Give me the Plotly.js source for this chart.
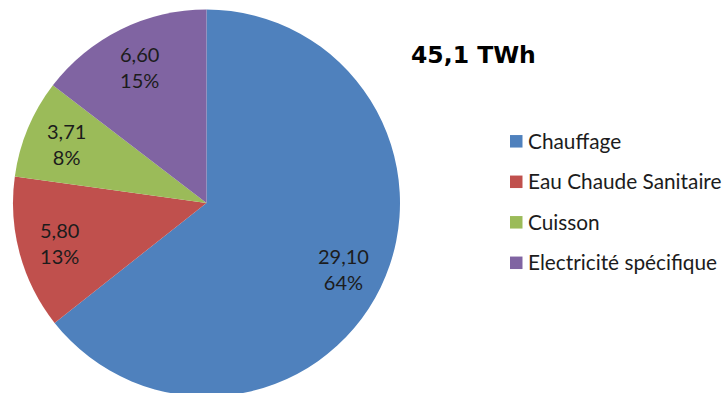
<!DOCTYPE html>
<html>
<head>
<meta charset="utf-8">
<script src="https://cdn.plot.ly/plotly-3.0.1.min.js"></script>
<style>
  html, body { margin: 0; padding: 0; overflow: hidden; background: #ffffff; }
</style>
</head>
<body>
<div id="chart" style="width:725px;height:400px"></div>
<script>
// Consommation d'énergie par usage (TWh)
const categories = ['Chauffage', 'Eau Chaude Sanitaire', 'Cuisson', 'Electricité spécifique'];
const consumptionTWh = [29.10, 5.80, 3.71, 6.60];
const sliceColors = ['#4F81BD', '#C0504D', '#9BBB59', '#8064A2'];
const totalLabel = '45,1 TWh';

const W = 725, H = 400;
const px = x => x / W;          // pixel -> paper x
const py = y => 1 - y / H;      // pixel (from top) -> paper y

const textColor = '#1c1c1c';

// pie geometry (pixels)
const pieCx = 206.5, pieCy = 203, pieR = 193.5;

const pie = {
  type: 'pie',
  labels: categories,
  values: consumptionTWh,
  sort: false,
  direction: 'clockwise',
  rotation: 0,
  marker: { colors: sliceColors, line: { width: 0 } },
  textinfo: 'none',
  hoverinfo: 'label+value+percent',
  showlegend: false,
  domain: { x: [px(pieCx - pieR), px(pieCx + pieR)], y: [py(pieCy + pieR), py(pieCy - pieR)] }
};

const shapes = [], annotations = [];

// Data labels: value and share, placed towards the outer edge of each slice
const total = consumptionTWh.reduce((a, b) => a + b, 0);
let cum = 0;
consumptionTWh.forEach((v, i) => {
  const mid = (cum + v / 2) / total * 2 * Math.PI;   // clockwise from 12 o'clock
  cum += v;
  const r = pieR * 0.785;
  const x = pieCx + r * Math.sin(mid);
  const y = pieCy - r * Math.cos(mid);
  annotations.push({
    xref: 'paper', yref: 'paper', x: px(x), y: py(y),
    xanchor: 'center', yanchor: 'middle', align: 'center', showarrow: false,
    text: v.toFixed(2).replace('.', ',') + '<br>' + Math.round(v / total * 100) + '%',
    font: { family: 'Lato', size: 20, color: textColor }
  });
});

// Legend drawn as swatches + labels, evenly spaced
const legendTop = 141.3, legendStep = 40.5, swatch = 12.5;
categories.forEach((name, i) => {
  const yc = legendTop + legendStep * i;
  shapes.push({
    type: 'rect', xref: 'paper', yref: 'paper',
    x0: px(510), x1: px(510 + swatch),
    y0: py(yc + swatch / 2), y1: py(yc - swatch / 2),
    fillcolor: sliceColors[i], line: { width: 0 }
  });
  annotations.push({
    xref: 'paper', yref: 'paper', x: px(526), y: py(yc - 1),
    xanchor: 'left', yanchor: 'middle', showarrow: false,
    text: name, font: { family: 'Lato', size: 20.8, color: textColor }
  });
});

const layout = {
  width: W, height: H,
  margin: { l: 0, r: 0, t: 0, b: 0 },
  paper_bgcolor: '#ffffff',
  showlegend: false,
  title: {
    text: totalLabel,
    x: px(411), xref: 'paper', xanchor: 'left',
    y: py(55), yref: 'container', yanchor: 'middle',
    font: { family: 'DejaVu Sans', size: 23.5, weight: 'bold', color: '#000000' }
  },
  shapes: shapes,
  annotations: annotations
};

Plotly.newPlot('chart', [pie], layout, { displayModeBar: false, staticPlot: true });
</script>
</body>
</html>
